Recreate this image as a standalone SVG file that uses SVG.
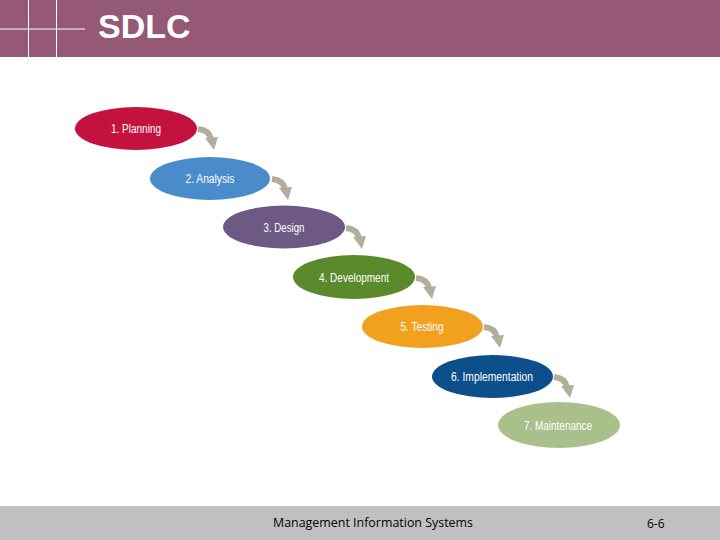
<svg xmlns="http://www.w3.org/2000/svg" xmlns:xlink="http://www.w3.org/1999/xlink" width="720" height="540" viewBox="0 0 720 540">
<style>
.lbl{font-family:"Liberation Sans",Arial,sans-serif;font-size:12.5px;fill:#ffffff;text-anchor:middle;}
.foot{font-family:"Open Sans","Liberation Sans",sans-serif;font-size:12px;fill:#000000;}
.arr{fill:none;stroke:#b3ae9c;stroke-width:6;}
.head{fill:#b3ae9c;}
</style>
<defs>
<g id="arrow">
<path class="arr" d="M1,3 Q12,4 14,13"/>
<polygon class="head" points="8,12 21,11 17,24"/>
</g>
</defs>
<rect x="0" y="0" width="720" height="540" fill="#ffffff"/>
<g id="header">
<rect x="0" y="0" width="720" height="57" fill="#955875"/>
<line x1="0" y1="29" x2="85" y2="29" stroke="#ffffff" stroke-width="1"/>
<line x1="28.5" y1="0" x2="28.5" y2="57" stroke="#ffffff" stroke-width="1"/>
<line x1="56.5" y1="0" x2="56.5" y2="57" stroke="#ffffff" stroke-width="1"/>
<text x="98" y="38" font-family="'Liberation Sans',Arial,sans-serif" font-weight="bold" font-size="34" fill="#ffffff">SDLC</text>
</g>
<g id="connectors">
<use xlink:href="#arrow" transform="translate(197,126)"/>
<use xlink:href="#arrow" transform="translate(271,176)"/>
<use xlink:href="#arrow" transform="translate(345,225)"/>
<use xlink:href="#arrow" transform="translate(415,275)"/>
<use xlink:href="#arrow" transform="translate(483,324)"/>
<use xlink:href="#arrow" transform="translate(553,374)"/>
</g>
<g id="n1"><ellipse cx="136" cy="128.5" rx="61" ry="21.5" fill="#c4123e"/><text class="lbl" x="136" y="133" textLength="50" lengthAdjust="spacingAndGlyphs">1. Planning</text></g>
<g id="n2"><ellipse cx="210" cy="178.5" rx="60" ry="21.5" fill="#4a8bcb"/><text class="lbl" x="210" y="183" textLength="49" lengthAdjust="spacingAndGlyphs">2. Analysis</text></g>
<g id="n3"><ellipse cx="284" cy="227" rx="61" ry="21.5" fill="#6e5985"/><text class="lbl" x="284" y="232" textLength="41" lengthAdjust="spacingAndGlyphs">3. Design</text></g>
<g id="n4"><ellipse cx="354" cy="277" rx="61" ry="22" fill="#5a8a2b"/><text class="lbl" x="354" y="282" textLength="70" lengthAdjust="spacingAndGlyphs">4. Development</text></g>
<g id="n5"><ellipse cx="422.5" cy="326.5" rx="60.5" ry="21.5" fill="#f2a11f"/><text class="lbl" x="422" y="331" textLength="43" lengthAdjust="spacingAndGlyphs">5. Testing</text></g>
<g id="n6"><ellipse cx="492.5" cy="376.5" rx="60.5" ry="21.5" fill="#0d4f8b"/><text class="lbl" x="492" y="381" textLength="82" lengthAdjust="spacingAndGlyphs">6. Implementation</text></g>
<g id="n7"><ellipse cx="559" cy="425" rx="61" ry="23" fill="#a9c08b"/><text class="lbl" x="558" y="430" textLength="68" lengthAdjust="spacingAndGlyphs">7. Maintenance</text></g>
<g id="footer">
<rect x="0" y="506" width="720" height="34" fill="#c0c0c0"/>
<text class="foot" x="273" y="527" textLength="200" lengthAdjust="spacingAndGlyphs">Management Information Systems</text>
<text class="foot" x="647" y="528" font-size="11">6-6</text>
</g>
</svg>
